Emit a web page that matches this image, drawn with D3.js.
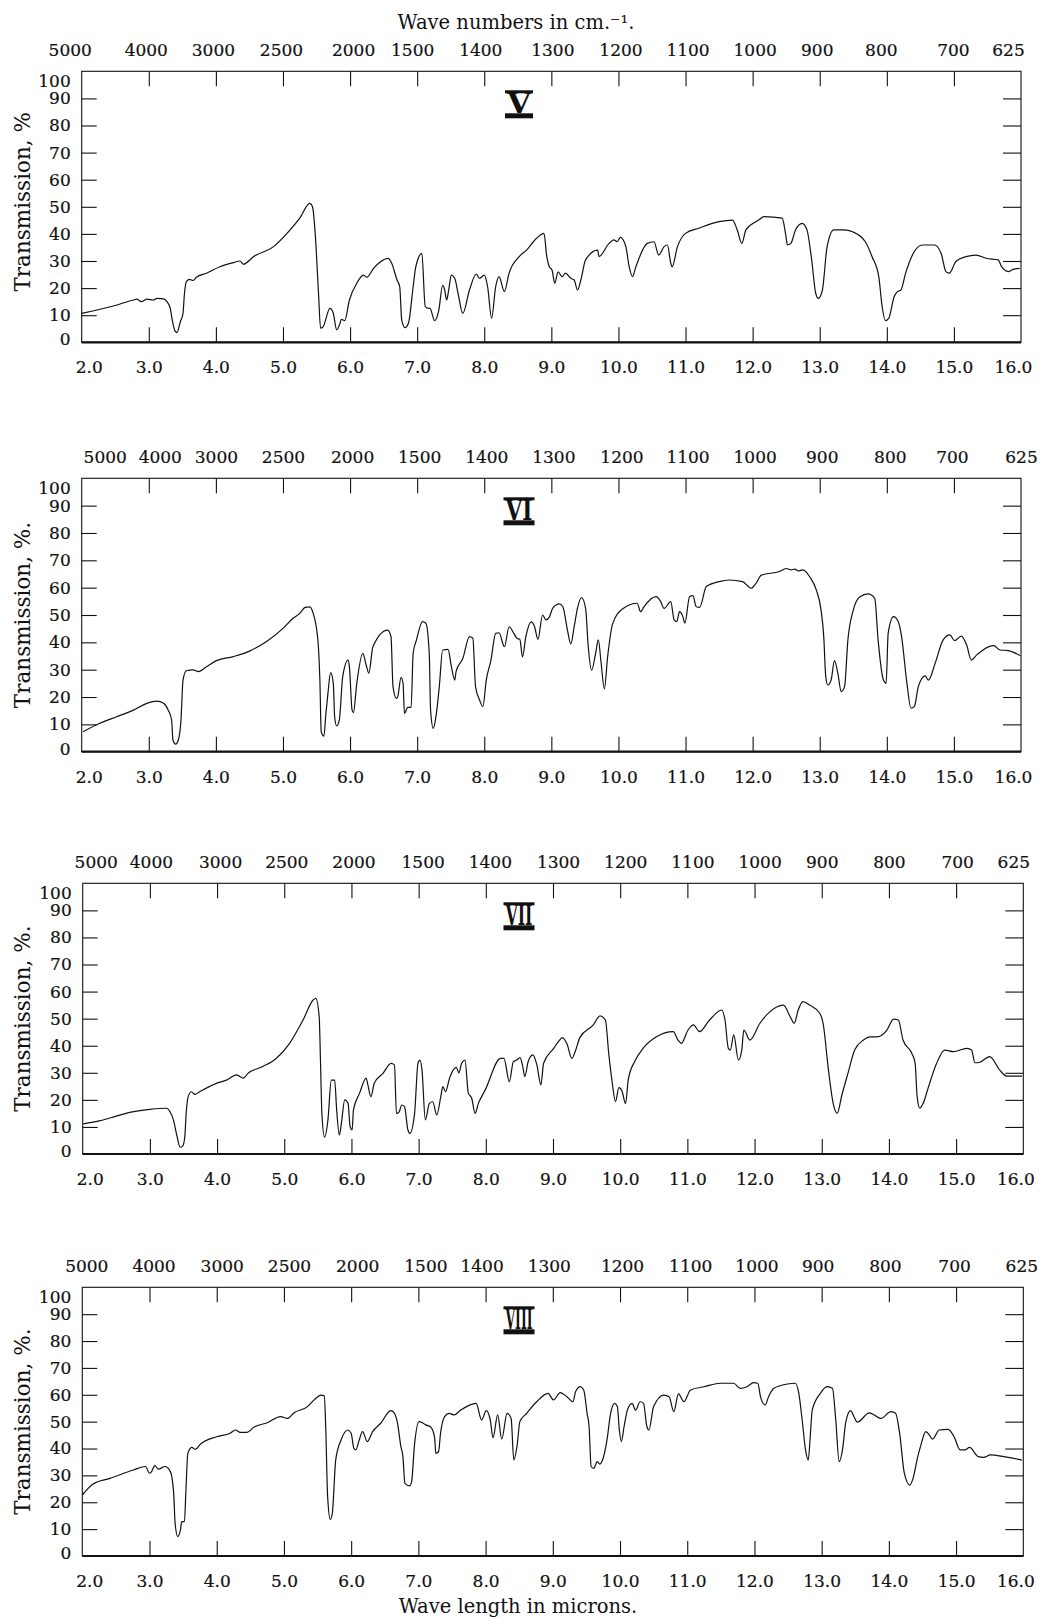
<!DOCTYPE html>
<html>
<head>
<meta charset="utf-8">
<script src="https://cdn.jsdelivr.net/npm/d3@7"></script>
<style>
  html, body { margin: 0; padding: 0; background: #fff; }
  svg { display: block; }
</style>
</head>
<body>
<svg id="chart" width="1042" height="1617"></svg>
<script>
// ---------------- DATA ----------------
const wavelengthTicks = [2,3,4,5,6,7,8,9,10,11,12,13,14,15,16];
const wavenumberLabels = ["5000","4000","3000","2500","2000","1500","1400","1300","1200","1100","1000","900","800","700","625"];
const transmissionTicks = [0,10,20,30,40,50,60,70,80,90,100];
const panelNames = ["V","VI","VII","VIII"];
const yAxisTitles = ["Transmission, %","Transmission, %.","Transmission, %.","Transmission, %."];

// [wavelength (microns), transmission (%)]
const spectrumV = [[2.00,10.7],[2.47,13.4],[2.77,15.6],[2.82,15.9],[2.89,15.0],[2.97,15.9],[3.07,15.6],[3.12,16.2],[3.22,16.0],[3.27,15.0],[3.32,12.5],[3.35,8.2],[3.39,4.2],[3.42,3.6],[3.47,7.6],[3.51,10.7],[3.53,17.5],[3.56,22.4],[3.61,23.2],[3.66,22.8],[3.71,24.0],[3.86,25.5],[4.06,27.9],[4.26,29.4],[4.36,30.0],[4.41,28.8],[4.56,31.6],[4.86,35.3],[5.06,40.2],[5.25,45.8],[5.40,51.3],[5.44,50.0],[5.48,40.2],[5.53,18.0],[5.56,5.2],[5.60,5.8],[5.70,12.5],[5.75,10.7],[5.80,4.6],[5.85,7.0],[5.87,8.5],[5.92,8.0],[5.99,15.6],[6.10,21.8],[6.20,24.8],[6.25,24.0],[6.35,27.3],[6.57,31.0],[6.62,29.2],[6.70,23.0],[6.74,20.5],[6.77,8.2],[6.82,5.4],[6.87,7.0],[6.94,20.5],[6.98,27.9],[7.07,32.8],[7.12,13.2],[7.17,12.5],[7.19,12.6],[7.26,8.0],[7.32,11.5],[7.38,21.0],[7.41,19.3],[7.44,15.6],[7.47,19.3],[7.51,24.8],[7.56,23.6],[7.61,18.0],[7.68,10.7],[7.78,19.3],[7.88,25.2],[7.93,23.6],[8.00,24.8],[8.05,20.5],[8.11,8.9],[8.17,20.5],[8.22,24.2],[8.30,18.7],[8.37,25.5],[8.52,31.6],[8.63,34.0],[8.78,38.4],[8.89,40.2],[8.93,32.0],[8.97,27.9],[9.01,26.7],[9.05,21.8],[9.10,26.0],[9.16,24.2],[9.21,25.5],[9.29,23.6],[9.34,23.0],[9.39,19.3],[9.44,23.0],[9.51,30.4],[9.69,34.0],[9.71,31.6],[9.86,36.5],[9.93,37.8],[9.98,37.1],[10.03,38.7],[10.11,35.3],[10.16,27.9],[10.21,24.2],[10.26,27.9],[10.43,36.5],[10.53,37.1],[10.60,32.2],[10.68,35.3],[10.73,35.9],[10.78,29.2],[10.80,27.9],[10.88,35.3],[11.00,40.2],[11.20,42.1],[11.50,44.5],[11.70,45.1],[11.77,41.5],[11.84,36.5],[11.90,41.5],[12.09,45.1],[12.17,46.4],[12.44,45.8],[12.49,40.2],[12.52,35.9],[12.57,36.5],[12.64,41.5],[12.74,43.9],[12.81,41.5],[12.88,30.4],[12.94,18.1],[12.98,16.2],[13.04,19.3],[13.11,35.3],[13.21,41.5],[13.36,41.5],[13.49,40.8],[13.68,37.1],[13.78,31.6],[13.88,24.2],[13.93,13.2],[13.98,8.0],[14.03,8.9],[14.11,16.9],[14.16,18.7],[14.21,19.3],[14.28,25.5],[14.41,33.5],[14.53,35.9],[14.71,35.9],[14.81,32.8],[14.88,26.1],[14.93,25.5],[15.03,29.8],[15.18,31.6],[15.33,32.2],[15.48,31.0],[15.66,30.4],[15.71,27.9],[15.81,26.1],[15.88,26.9],[15.98,27.3]];

const spectrumVI = [[2.02,7.3],[2.27,10.4],[2.52,12.8],[2.77,15.2],[2.97,17.7],[3.12,18.5],[3.22,17.7],[3.29,15.2],[3.34,11.6],[3.36,4.3],[3.40,2.8],[3.44,4.3],[3.48,11.6],[3.51,26.2],[3.56,29.6],[3.66,29.9],[3.74,29.3],[3.86,31.1],[4.01,33.3],[4.26,34.8],[4.50,36.8],[4.75,40.2],[5.00,45.1],[5.15,48.8],[5.25,50.6],[5.33,52.8],[5.40,53.0],[5.45,50.6],[5.52,40.9],[5.55,26.2],[5.57,7.3],[5.61,5.7],[5.64,14.0],[5.67,21.3],[5.71,28.9],[5.75,25.0],[5.77,12.8],[5.80,9.4],[5.84,11.6],[5.89,27.4],[5.97,33.5],[5.99,31.1],[6.03,15.2],[6.05,14.3],[6.10,25.0],[6.19,36.0],[6.24,31.7],[6.28,28.7],[6.34,38.4],[6.56,44.5],[6.61,42.1],[6.64,23.8],[6.69,19.5],[6.71,20.1],[6.76,27.2],[6.79,25.0],[6.81,14.0],[6.86,16.2],[6.91,16.2],[6.94,36.0],[6.99,40.9],[7.08,47.6],[7.13,47.0],[7.18,36.0],[7.20,15.2],[7.24,8.5],[7.28,12.8],[7.33,23.8],[7.38,37.2],[7.46,37.4],[7.51,31.1],[7.56,26.2],[7.58,29.3],[7.68,34.1],[7.78,42.1],[7.83,41.5],[7.87,23.8],[7.93,18.9],[7.98,16.5],[8.03,26.2],[8.10,33.5],[8.17,43.3],[8.22,43.5],[8.30,38.4],[8.37,45.7],[8.44,43.3],[8.49,41.4],[8.53,41.1],[8.57,34.7],[8.62,42.1],[8.70,47.5],[8.75,45.7],[8.80,41.1],[8.87,50.0],[8.92,48.2],[8.97,49.2],[9.02,52.5],[9.12,54.1],[9.17,53.1],[9.24,44.5],[9.29,39.4],[9.34,45.7],[9.39,52.5],[9.45,56.4],[9.51,52.5],[9.55,38.4],[9.60,29.8],[9.66,36.0],[9.70,40.9],[9.74,32.9],[9.79,23.0],[9.84,35.0],[9.91,46.5],[10.06,52.2],[10.28,54.3],[10.33,51.2],[10.38,53.0],[10.56,56.7],[10.63,54.9],[10.68,52.4],[10.78,54.9],[10.83,48.2],[10.87,47.6],[10.91,51.2],[10.96,49.4],[10.99,47.0],[11.06,56.7],[11.11,57.1],[11.16,53.0],[11.21,52.8],[11.31,60.4],[11.50,62.2],[11.65,62.8],[11.85,62.2],[11.98,59.8],[12.05,61.6],[12.13,64.6],[12.40,65.9],[12.50,67.0],[12.58,66.5],[12.63,66.8],[12.68,66.1],[12.75,66.5],[12.85,64.0],[12.95,59.1],[13.02,51.8],[13.06,42.1],[13.09,27.4],[13.12,24.4],[13.17,26.2],[13.22,33.3],[13.27,28.7],[13.32,22.0],[13.37,23.8],[13.42,40.9],[13.50,51.8],[13.60,56.7],[13.72,57.7],[13.82,56.1],[13.87,40.9],[13.95,26.2],[13.99,25.0],[14.02,43.3],[14.10,49.4],[14.17,47.6],[14.22,42.1],[14.30,25.0],[14.36,15.9],[14.41,16.5],[14.47,23.8],[14.57,27.7],[14.62,26.2],[14.72,32.3],[14.84,40.9],[14.94,42.7],[15.01,40.6],[15.11,42.3],[15.19,39.0],[15.26,33.5],[15.34,35.4],[15.59,38.8],[15.69,37.2],[15.81,37.0],[15.99,35.1]];

const spectrumVII = [[2.01,11.1],[2.26,12.3],[2.50,14.0],[2.70,15.4],[3.00,16.5],[3.25,16.9],[3.30,15.6],[3.35,12.6],[3.40,7.0],[3.45,2.5],[3.49,3.0],[3.52,6.4],[3.54,15.0],[3.57,21.2],[3.62,23.0],[3.67,22.0],[3.74,23.0],[3.99,26.1],[4.14,27.3],[4.29,29.2],[4.39,28.0],[4.46,29.8],[4.68,32.3],[4.88,35.3],[5.08,40.9],[5.28,49.5],[5.43,56.9],[5.47,57.5],[5.52,50.7],[5.54,33.5],[5.56,15.0],[5.60,6.2],[5.65,12.6],[5.70,27.3],[5.75,27.3],[5.78,16.3],[5.82,7.0],[5.85,11.3],[5.90,20.0],[5.95,18.7],[5.98,10.1],[6.01,8.9],[6.03,16.3],[6.12,22.4],[6.22,28.0],[6.24,26.1],[6.29,21.2],[6.34,26.1],[6.47,29.8],[6.59,33.5],[6.64,32.9],[6.67,15.0],[6.71,15.6],[6.75,18.1],[6.79,17.5],[6.84,8.9],[6.87,7.6],[6.94,15.0],[6.99,33.5],[7.02,34.7],[7.05,31.0],[7.10,12.6],[7.16,18.7],[7.21,19.3],[7.27,14.4],[7.33,21.2],[7.36,24.9],[7.40,23.0],[7.46,28.0],[7.56,32.0],[7.60,30.0],[7.64,33.5],[7.69,34.7],[7.74,22.4],[7.79,20.6],[7.84,15.0],[7.89,18.7],[7.99,23.6],[8.22,35.3],[8.27,35.3],[8.35,26.7],[8.41,34.1],[8.46,34.7],[8.51,35.6],[8.55,32.3],[8.58,28.6],[8.63,34.1],[8.70,36.6],[8.76,32.9],[8.82,25.5],[8.86,33.5],[9.01,39.0],[9.08,41.5],[9.14,43.0],[9.21,40.5],[9.28,35.3],[9.33,37.8],[9.40,43.0],[9.60,47.7],[9.70,51.0],[9.78,49.5],[9.83,37.0],[9.88,26.7],[9.93,19.3],[9.98,24.5],[10.03,23.0],[10.08,18.6],[10.12,27.5],[10.22,34.4],[10.34,39.0],[10.54,43.3],[10.79,45.2],[10.86,42.1],[10.91,40.9],[11.01,45.8],[11.09,47.7],[11.18,45.2],[11.33,49.5],[11.51,53.2],[11.56,49.5],[11.61,39.0],[11.64,38.4],[11.69,44.0],[11.76,34.7],[11.81,38.4],[11.84,45.8],[11.93,42.1],[12.08,48.3],[12.23,52.6],[12.43,55.0],[12.53,50.7],[12.59,48.3],[12.65,53.2],[12.72,56.3],[12.82,55.0],[12.97,52.0],[13.02,48.3],[13.10,31.0],[13.17,18.7],[13.23,15.0],[13.30,21.8],[13.39,29.8],[13.49,38.4],[13.62,42.1],[13.72,43.3],[13.82,43.3],[13.97,45.8],[14.07,49.8],[14.14,49.5],[14.21,42.1],[14.34,37.2],[14.39,33.5],[14.42,21.2],[14.46,16.9],[14.51,18.7],[14.59,24.9],[14.71,33.5],[14.83,38.4],[14.96,37.8],[15.16,39.0],[15.23,38.4],[15.28,33.7],[15.35,33.9],[15.50,36.0],[15.65,31.0],[15.75,28.8],[15.98,28.8]];

const spectrumVIII = [[2.00,22.7],[2.16,26.8],[2.41,28.9],[2.76,32.0],[2.94,33.3],[3.00,30.8],[3.03,31.4],[3.08,33.6],[3.13,32.3],[3.23,33.3],[3.31,31.4],[3.36,23.3],[3.38,12.4],[3.42,7.2],[3.46,9.7],[3.48,12.8],[3.52,12.8],[3.54,23.3],[3.57,38.2],[3.63,40.4],[3.68,39.7],[3.76,41.7],[4.00,44.4],[4.20,45.7],[4.28,46.9],[4.35,46.0],[4.45,46.0],[4.55,47.9],[4.75,49.6],[4.95,51.9],[5.05,51.2],[5.15,53.3],[5.35,55.6],[5.45,58.1],[5.55,59.9],[5.60,59.6],[5.62,49.4],[5.65,22.1],[5.69,13.6],[5.72,15.9],[5.77,35.7],[5.85,43.2],[5.95,46.9],[6.00,45.7],[6.04,40.1],[6.07,39.5],[6.12,43.2],[6.17,46.3],[6.24,42.6],[6.32,46.3],[6.44,49.4],[6.59,54.1],[6.64,53.3],[6.69,49.4],[6.74,40.7],[6.77,37.0],[6.80,27.0],[6.87,26.1],[6.90,27.7],[6.94,40.7],[7.01,50.0],[7.06,49.6],[7.11,48.8],[7.18,48.1],[7.24,44.4],[7.26,38.2],[7.30,38.8],[7.33,45.7],[7.39,51.9],[7.46,53.1],[7.53,52.5],[7.63,54.3],[7.86,56.8],[7.94,50.6],[8.01,54.1],[8.07,50.6],[8.11,44.0],[8.18,52.5],[8.24,43.5],[8.32,53.1],[8.38,51.2],[8.42,35.7],[8.47,41.3],[8.51,50.0],[8.61,53.1],[8.76,57.4],[8.93,60.5],[9.01,58.1],[9.11,60.8],[9.21,59.3],[9.30,57.4],[9.34,61.2],[9.41,63.0],[9.46,61.8],[9.51,53.1],[9.54,48.1],[9.57,33.3],[9.61,32.6],[9.66,35.1],[9.70,34.2],[9.73,35.1],[9.81,43.8],[9.86,53.1],[9.92,56.8],[9.96,55.6],[9.99,46.9],[10.02,42.6],[10.06,48.1],[10.11,54.3],[10.18,56.8],[10.23,54.3],[10.30,57.4],[10.35,56.8],[10.40,48.1],[10.43,46.9],[10.50,55.6],[10.65,59.9],[10.73,59.3],[10.80,53.7],[10.87,60.3],[10.95,57.4],[11.05,61.8],[11.25,63.0],[11.50,64.3],[11.69,64.3],[11.79,62.4],[11.89,63.0],[11.99,64.5],[12.05,64.3],[12.09,59.3],[12.16,56.2],[12.21,59.3],[12.29,62.4],[12.49,64.0],[12.61,64.3],[12.66,60.5],[12.71,50.6],[12.76,39.5],[12.80,35.7],[12.83,44.4],[12.86,54.3],[12.98,60.5],[13.08,63.0],[13.16,62.4],[13.21,50.6],[13.26,35.1],[13.31,39.5],[13.36,50.0],[13.43,54.1],[13.48,51.9],[13.53,49.8],[13.71,53.3],[13.88,51.2],[14.03,53.7],[14.10,53.1],[14.16,45.7],[14.23,30.8],[14.31,26.4],[14.36,28.9],[14.43,37.0],[14.47,40.7],[14.55,46.3],[14.60,45.1],[14.65,43.5],[14.75,46.9],[14.88,47.1],[14.97,44.4],[15.06,39.5],[15.13,39.5],[15.20,40.4],[15.33,37.0],[15.41,36.7],[15.51,37.6],[15.71,37.0],[15.98,35.7]];

const spectra = [spectrumV, spectrumVI, spectrumVII, spectrumVIII];

// ---------------- LAYOUT ----------------
const panelBoxes = [
  {left: 81.7, right: 1021.0, top: 71.3,   bottom: 342.3},
  {left: 81.7, right: 1021.0, top: 478.3,  bottom: 751.7},
  {left: 82.7, right: 1023.3, top: 883.3,  bottom: 1154.0},
  {left: 82.3, right: 1023.3, top: 1287.3, bottom: 1556.0}
];
// small horizontal nudges of the printed wave-number labels (px)
const topLabelNudge = [
  [-12,-3,-3,-2,3,-5,-4,1,2,2,2,-3,-6,-1,-13],
  [23,11,0,0,2,2,2,2,3,2,2,2,3,-2,0],
  [13,1,3,2,2,4,4,5,5,5,5,0,0,1,-10],
  [4,4,5,5,6,7,-4,-4,2,3,2,-4,-4,-2,-2]
];
const FONT = "'DejaVu Serif', 'Liberation Serif', serif";
const INK = "#111";

const svg = d3.select("#chart");

spectra.forEach((data, p) => {
  const b = panelBoxes[p];
  const x = d3.scaleLinear().domain([2, 16]).range([b.left, b.right]);
  const y = d3.scaleLinear().domain([0, 100]).range([b.bottom, b.top]);
  const g = svg.append("g");

  // bottom axis (wavelength)
  const ax = g.append("g").attr("transform", `translate(0,${b.bottom})`)
    .call(d3.axisBottom(x).tickValues(wavelengthTicks).tickFormat(d3.format(".1f"))
      .tickSizeInner(-15).tickSizeOuter(0).tickPadding(19));
  // top axis (wave numbers)
  const at = g.append("g").attr("transform", `translate(0,${b.top})`)
    .call(d3.axisTop(x).tickValues(wavelengthTicks).tickFormat((d, i) => wavenumberLabels[i])
      .tickSizeInner(-15).tickSizeOuter(0).tickPadding(15));
  // left axis (transmission)
  const al = g.append("g").attr("transform", `translate(${b.left},0)`)
    .call(d3.axisLeft(y).tickValues(transmissionTicks).tickSizeInner(-15).tickSizeOuter(0).tickPadding(11));
  // right axis ticks only
  const ar = g.append("g").attr("transform", `translate(${b.right},0)`)
    .call(d3.axisRight(y).tickValues(transmissionTicks.filter(v => v > 0 && v < 100))
      .tickFormat("").tickSizeInner(-18).tickSizeOuter(0));

  [ax, at, al, ar].forEach(a => {
    a.select(".domain").remove();
    a.attr("font-family", FONT).attr("font-size", 17);
    a.selectAll("line").attr("stroke", INK).attr("stroke-width", 1.1);
    a.selectAll("text").attr("fill", INK).attr("stroke", INK).attr("stroke-width", 0.2);
  });
  // drop ticks lying on the frame
  ax.selectAll(".tick").filter(d => d === 2 || d === 16).select("line").remove();
  at.selectAll(".tick").filter(d => d === 2 || d === 16).select("line").remove();
  al.selectAll(".tick").filter(d => d === 0 || d === 100).select("line").remove();

  ax.selectAll(".tick text").attr("dx", d => d === 2 ? 7 : (d === 16 ? -8 : 0));
  at.selectAll(".tick text").attr("dx", (d, i) => topLabelNudge[p][i]);
  al.selectAll(".tick text").attr("dy", d => d === 100 ? "0.9em" : (d === 0 ? "0.15em" : "0.32em"));

  // frame
  g.append("rect")
    .attr("x", b.left).attr("y", b.top)
    .attr("width", b.right - b.left).attr("height", b.bottom - b.top)
    .attr("fill", "none").attr("stroke", INK).attr("stroke-width", 1.1);
  g.append("line")
    .attr("x1", b.left).attr("x2", b.right)
    .attr("y1", b.bottom).attr("y2", b.bottom)
    .attr("stroke", INK).attr("stroke-width", 2.2);

  // spectrum
  const line = d3.line().x(d => x(d[0])).y(d => y(d[1])).curve(d3.curveMonotoneX);
  g.append("path").datum(data)
    .attr("d", line)
    .attr("fill", "none").attr("stroke", INK).attr("stroke-width", 1.2)
    .attr("stroke-linejoin", "round");

  // y axis title
  const cy = (b.top + b.bottom) / 2 - (p === 0 ? 5 : 0);
  g.append("text")
    .attr("transform", `translate(22,${cy}) rotate(-90)`)
    .attr("text-anchor", "middle").attr("dominant-baseline", "central")
    .attr("font-family", FONT).attr("font-size", 21.5).attr("fill", INK)
    .text(yAxisTitles[p]);

  // roman numeral label with bars
  const nx = 519, ny = b.top + 34;
  const w = panelNames[p].length === 1 ? 28 : 31;
  g.append("text")
    .attr("x", nx).attr("y", ny + 8)
    .attr("text-anchor", "middle")
    .attr("font-family", FONT).attr("font-weight", "bold").attr("font-size", 27)
    .attr("textLength", w - 4).attr("lengthAdjust", "spacingAndGlyphs")
    .attr("fill", INK)
    .text(panelNames[p]);
  g.append("rect").attr("x", nx - w / 2).attr("y", ny - 15).attr("width", w).attr("height", 3).attr("fill", INK);
  g.append("rect").attr("x", nx - w / 2).attr("y", ny + 8).attr("width", w).attr("height", 5).attr("fill", INK);
});

// overall axis titles
svg.append("text")
  .attr("x", 516).attr("y", 29).attr("text-anchor", "middle")
  .attr("font-family", FONT).attr("font-size", 19.5).attr("fill", INK)
  .text("Wave numbers in cm.\u207B\u00B9.");
svg.append("text")
  .attr("x", 518).attr("y", 1613).attr("text-anchor", "middle")
  .attr("font-family", FONT).attr("font-size", 19.5).attr("fill", INK)
  .text("Wave length in microns.");
</script>
</body>
</html>
